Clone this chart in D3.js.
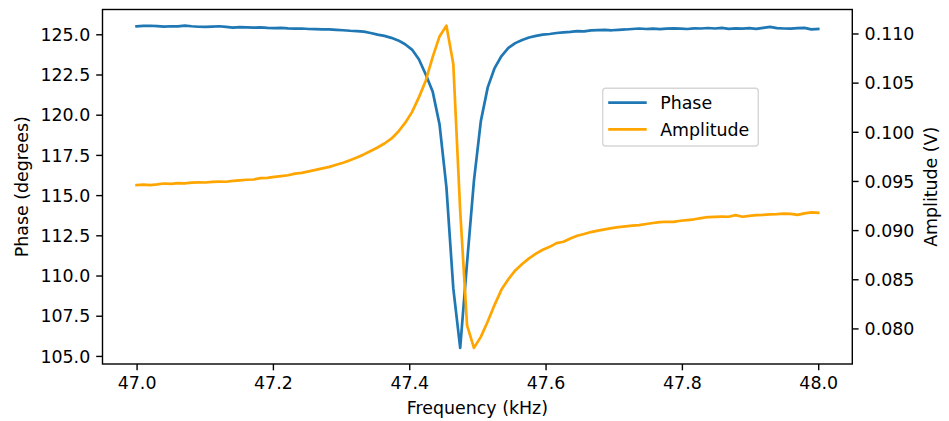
<!DOCTYPE html>
<html>
<head>
<meta charset="utf-8">
<script src="https://cdn.jsdelivr.net/npm/d3@7"></script>
<style>
  body { margin: 0; background: #fff; }
  svg text { font-family: "DejaVu Sans", sans-serif; fill: #000; }
</style>
</head>
<body>
<svg id="chart" width="949" height="421"></svg>
<script>
// sweep 47.0 .. 48.0 kHz, 100 points
var freqStart = 47.0, freqEnd = 48.0, nPoints = 100;

var phase = [
  125.50, 125.52, 125.53, 125.51, 125.48, 125.50, 125.49, 125.54, 125.50, 125.47,
  125.46, 125.48, 125.50, 125.46, 125.42, 125.44, 125.43, 125.41, 125.43, 125.40,
  125.38, 125.40, 125.37, 125.35, 125.36, 125.33, 125.32, 125.30, 125.31, 125.28,
  125.25, 125.22, 125.20, 125.17, 125.08, 124.98, 124.90, 124.78, 124.62, 124.38,
  124.05, 123.45, 122.50, 121.45, 119.40, 115.50, 109.20, 105.50, 110.80, 115.90,
  119.60, 121.70, 122.90, 123.65, 124.15, 124.45, 124.65, 124.80, 124.90, 124.98,
  125.02, 125.08, 125.12, 125.15, 125.20, 125.18, 125.24, 125.26, 125.27, 125.25,
  125.28, 125.30, 125.33, 125.36, 125.33, 125.35, 125.32, 125.35, 125.37, 125.35,
  125.33, 125.37, 125.36, 125.39, 125.36, 125.40, 125.34, 125.37, 125.35, 125.38,
  125.34, 125.40, 125.46, 125.38, 125.36, 125.35, 125.38, 125.40, 125.31, 125.33
];

var amplitude = [
  0.09457, 0.09462, 0.09458, 0.09465, 0.09474, 0.09470, 0.09478, 0.09476, 0.09482, 0.09485,
  0.09484, 0.09490, 0.09494, 0.09492, 0.09500, 0.09506, 0.09512, 0.09515, 0.09528, 0.09532,
  0.09542, 0.09550, 0.09558, 0.09574, 0.09582, 0.09598, 0.09612, 0.09628, 0.09643, 0.09665,
  0.09685, 0.09711, 0.09738, 0.09770, 0.09805, 0.09840, 0.09881, 0.09930, 0.10000, 0.10090,
  0.10200, 0.10350, 0.10520, 0.10760, 0.10970, 0.11080, 0.10690, 0.09200, 0.08030, 0.07802,
  0.07914, 0.08070, 0.08240, 0.08395, 0.08500, 0.08590, 0.08655, 0.08712, 0.08760, 0.08800,
  0.08830, 0.08868, 0.08882, 0.08915, 0.08942, 0.08960, 0.08980, 0.08995, 0.09008, 0.09020,
  0.09030, 0.09038, 0.09045, 0.09050, 0.09062, 0.09072, 0.09082, 0.09085, 0.09084, 0.09095,
  0.09102, 0.09110, 0.09122, 0.09133, 0.09135, 0.09138, 0.09136, 0.09152, 0.09136, 0.09145,
  0.09152, 0.09155, 0.09160, 0.09163, 0.09168, 0.09165, 0.09155, 0.09170, 0.09180, 0.09176
];

var freq = d3.range(nPoints).map(i => freqStart + i * (freqEnd - freqStart) / (nPoints - 1));

var xTicks = [47.0, 47.2, 47.4, 47.6, 47.8, 48.0];
var phaseTicks = [105.0, 107.5, 110.0, 112.5, 115.0, 117.5, 120.0, 122.5, 125.0];
var ampTicks = [0.080, 0.085, 0.090, 0.095, 0.100, 0.105, 0.110];

var seriesNames = ["Phase", "Amplitude"];
var seriesColors = ["#1f77b4", "orange"];

var svg = d3.select("svg#chart");
var margin = {left: 102.5, top: 9.5, right: 96.7, bottom: 57};
var width = 949 - margin.left - margin.right;
var height = 421 - margin.top - margin.bottom;
var fontSize = 17.4;

// matplotlib style 5% padding around the data
function padded(ext) {
    var p = (ext[1] - ext[0]) * 0.05;
    return [ext[0] - p, ext[1] + p];
}

var x = d3.scaleLinear().domain(padded([freqStart, freqEnd])).range([0, width]);
var yPhase = d3.scaleLinear().domain(padded(d3.extent(phase))).range([height, 0]);
var yAmp = d3.scaleLinear().domain(padded(d3.extent(amplitude))).range([height, 0]);

var g = svg.append("g")
    .attr("transform", "translate(" + margin.left + "," + margin.top + ")");

var linePhase = d3.line()
    .x((d, i) => x(freq[i]))
    .y(d => yPhase(d));
var lineAmp = d3.line()
    .x((d, i) => x(freq[i]))
    .y(d => yAmp(d));

g.append("path")
    .datum(phase)
    .attr("d", linePhase)
    .attr("fill", "none")
    .attr("stroke", seriesColors[0])
    .attr("stroke-width", 2.7)
    .attr("stroke-linejoin", "round")
    .attr("stroke-linecap", "square");

g.append("path")
    .datum(amplitude)
    .attr("d", lineAmp)
    .attr("fill", "none")
    .attr("stroke", seriesColors[1])
    .attr("stroke-width", 2.7)
    .attr("stroke-linejoin", "round")
    .attr("stroke-linecap", "square");

// axes
function styleAxis(sel) {
    sel.select(".domain").remove();
    sel.selectAll(".tick line").attr("stroke", "#000").attr("stroke-width", 1.4);
    sel.selectAll(".tick text").style("font-size", fontSize + "px");
}

g.append("g")
    .attr("transform", "translate(0," + height + ")")
    .call(d3.axisBottom(x).tickValues(xTicks).tickFormat(d3.format(".1f")).tickSizeOuter(0).tickSize(6.3).tickPadding(6))
    .call(styleAxis);

g.append("g")
    .call(d3.axisLeft(yPhase).tickValues(phaseTicks).tickFormat(d3.format(".1f")).tickSizeOuter(0).tickSize(6.3).tickPadding(6))
    .call(styleAxis)
    .selectAll(".tick text").attr("dy", "0.36em");

g.append("g")
    .attr("transform", "translate(" + width + ",0)")
    .call(d3.axisRight(yAmp).tickValues(ampTicks).tickFormat(d3.format(".3f")).tickSizeOuter(0).tickSize(6.3).tickPadding(6))
    .call(styleAxis)
    .selectAll(".tick text").attr("dy", "0.36em");

// spines
g.append("rect")
    .attr("width", width)
    .attr("height", height)
    .attr("fill", "none")
    .attr("stroke", "#000")
    .attr("stroke-width", 1.4);

// axis labels
g.append("text")
    .attr("x", width / 2)
    .attr("y", height + 50)
    .attr("text-anchor", "middle")
    .style("font-size", fontSize + "px")
    .text("Frequency (kHz)");

g.append("text")
    .attr("transform", "translate(" + (28 - margin.left) + "," + (height / 2) + ")rotate(-90)")
    .attr("text-anchor", "middle")
    .style("font-size", fontSize + "px")
    .text("Phase (degrees)");

g.append("text")
    .attr("transform", "translate(" + (937 - margin.left) + "," + (height / 2) + ")rotate(-90)")
    .attr("text-anchor", "middle")
    .style("font-size", fontSize + "px")
    .text("Amplitude (V)");

// legend
var legend = g.append("g")
    .attr("transform", "translate(" + (602.7 - margin.left) + "," + (88.3 - margin.top) + ")");

legend.append("rect")
    .attr("width", 155.6)
    .attr("height", 57.7)
    .attr("rx", 3)
    .attr("fill", "#fff")
    .attr("fill-opacity", 0.8)
    .attr("stroke", "#d6d6d6")
    .attr("stroke-width", 1.4);

var items = legend.selectAll(".item")
    .data(seriesNames)
    .enter()
    .append("g")
    .attr("class", "item")
    .attr("transform", (d, i) => "translate(0," + (14.4 + i * 26.6) + ")");

items.append("line")
    .attr("x1", 5.5)
    .attr("x2", 44)
    .attr("stroke", (d, i) => seriesColors[i])
    .attr("stroke-width", 2.7);

items.append("text")
    .attr("x", 57.5)
    .attr("y", 6.2)
    .style("font-size", fontSize + "px")
    .text(d => d);
</script>
</body>
</html>
